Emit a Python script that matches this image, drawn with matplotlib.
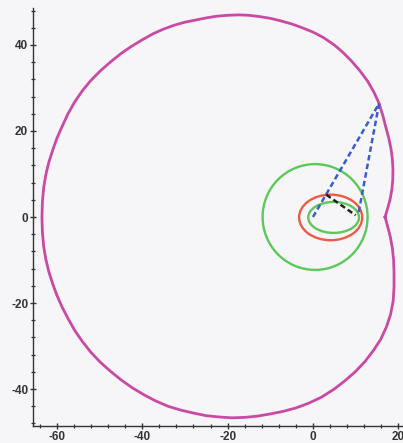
import matplotlib
matplotlib.use("Agg")
import matplotlib.pyplot as plt
from matplotlib.patches import Ellipse
from matplotlib.ticker import MultipleLocator

plt.rcParams['font.family'] = ['Liberation Sans', 'DejaVu Sans']
plt.rcParams['axes.unicode_minus'] = False

# Outer boundary curve (x, y), traced counter-clockwise from the notch on the right
outer_x = [16.9, 17.5, 18.1, 18.5, 18.7, 18.75, 18.6, 18.3, 17.8, 17.1, 16.4, 15.5,
           14.3, 12.8, 11.0, 9.0, 7.0, 5.0, 2.5, 0.0, -2.5, -5.0, -7.5, -10.0, -12.5,
           -15.0, -17.5, -20.0, -22.5, -25.0, -27.5, -30.0, -32.5, -35.0, -37.5, -40.0,
           -42.5, -45.0, -47.5, -49.8, -52.0, -54.0, -55.8, -57.4, -58.8, -60.0, -61.0,
           -61.9, -62.6, -63.1, -63.4, -63.5,
           -63.4, -63.1, -62.6, -61.9, -61.0, -60.0, -58.8, -57.4, -55.8, -54.0, -52.0,
           -49.8, -47.3, -44.8, -42.2, -39.5, -36.8, -34.0, -31.0, -28.0, -25.0, -22.0,
           -19.0, -16.0, -13.0, -10.0, -7.0, -4.0, -1.0, 2.0, 5.0, 7.6, 10.0, 12.2, 14.2,
           15.9, 17.2, 18.2, 18.8, 19.0, 19.0, 18.9, 18.6, 18.1, 17.5, 16.9]
outer_y = [0.0, 2.0, 4.2, 6.5, 8.6, 11.0, 13.5, 15.8, 18.2, 20.8, 23.5, 26.4,
           29.0, 31.6, 34.0, 36.3, 38.3, 40.0, 41.7, 43.0, 44.0, 44.9, 45.6, 46.2, 46.6,
           46.9, 47.0, 46.9, 46.7, 46.3, 45.8, 45.3, 44.6, 43.7, 42.6, 41.2,
           39.7, 38.0, 36.0, 34.0, 31.8, 29.4, 26.8, 24.0, 21.0, 18.3, 15.5,
           12.7, 9.8, 6.8, 3.5, 0.0,
           -3.5, -6.8, -9.8, -12.7, -15.5, -18.2, -20.9, -23.6, -26.4, -29.0, -31.5,
           -33.8, -36.0, -38.0, -39.8, -41.4, -42.8, -44.0, -44.9, -45.6, -46.2, -46.5,
           -46.7, -46.6, -46.3, -45.8, -45.2, -44.4, -43.3, -41.9, -40.0, -38.0, -35.9, -33.6, -31.0,
           -28.4, -25.6, -22.6, -19.5, -16.3, -13.0, -10.0, -7.2, -4.5, -2.2, 0.0]

# Closed conics: (centre x, centre y, full width, full height)
big_circle = (0.5, 0.0, 24.6, 24.6)
red_ellipse = (4.15, -0.1, 14.8, 10.6)
small_ellipse = (4.85, -0.1, 11.9, 7.2)

# Dashed construction segments
apex = (15.5, 26.4)
blue_x1 = [0.0, apex[0]]
blue_y1 = [0.0, apex[1]]
blue_x2 = [apex[0], 10.6]
blue_y2 = [apex[1], 0.5]
black_x = [3.1, 10.0]
black_y = [5.2, 0.4]

x_ticks = [-60, -40, -20, 0, 20]
y_ticks = [-40, -20, 0, 20, 40]

bg = '#f6f6f9'
fig = plt.figure(figsize=(4.03, 4.43), dpi=100, facecolor=bg)
ax = fig.add_axes([33 / 403, 17 / 443, 370 / 403, 418 / 443])
ax.set_facecolor(bg)

ax.plot(outer_x, outer_y, color='#c94aa3', lw=2.0, solid_joinstyle='round')

for (cx, cy, w, h), col in [(big_circle, '#5cc85a'), (small_ellipse, '#5cc85a'),
                            (red_ellipse, '#ee5a45')]:
    ax.add_patch(Ellipse((cx, cy), w, h, fill=False, edgecolor=col, lw=1.7))

ax.plot(blue_x1, blue_y1, color='#3a5ccc', lw=1.8, dashes=(2.2, 1.3))
ax.plot(blue_x2, blue_y2, color='#3a5ccc', lw=1.8, dashes=(2.2, 1.3))
ax.plot(black_x, black_y, color='#222222', lw=1.8, dashes=(2.2, 1.3))

ax.set_xlim(-65.6, 21.1)
ax.set_ylim(-48.6, 48.6)

for s in ['top', 'right']:
    ax.spines[s].set_visible(False)
for s in ['left', 'bottom']:
    ax.spines[s].set_color('#333333')
    ax.spines[s].set_linewidth(1.0)

ax.set_xticks(x_ticks)
ax.set_yticks(y_ticks)
ax.xaxis.set_minor_locator(MultipleLocator(4))
ax.yaxis.set_minor_locator(MultipleLocator(4))
ax.tick_params(which='major', direction='inout', length=5, width=1.0, color='#333333',
               labelsize=8.5, labelcolor='#333333', pad=1)
ax.tick_params(which='minor', direction='inout', length=3, width=0.9, color='#333333')
for lab in ax.get_xticklabels() + ax.get_yticklabels():
    lab.set_fontweight('bold')

fig.savefig('out.png', dpi=100, facecolor=bg)
